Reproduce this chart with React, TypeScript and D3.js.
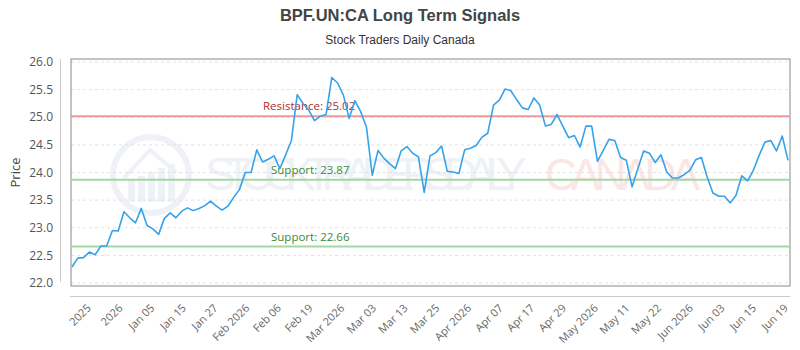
import * as d3 from "d3";
import React, { useEffect, useRef } from "react";

// closing prices (one per trading session)
const prices = [
  22.29, 22.45, 22.46, 22.56, 22.51, 22.67, 22.67, 22.95, 22.94, 23.29,
  23.18, 23.09, 23.35, 23.04, 22.98, 22.88, 23.17, 23.27, 23.18, 23.3,
  23.36, 23.31, 23.35, 23.4, 23.48, 23.39, 23.32, 23.39, 23.55, 23.69,
  24.0, 24.0, 24.41, 24.19, 24.24, 24.3, 24.07, 24.32, 24.58, 25.41,
  25.25, 25.13, 24.94, 25.02, 25.05, 25.72, 25.62, 25.4, 24.98, 25.3,
  25.1, 24.82, 23.95, 24.4, 24.26, 24.16, 24.07, 24.39, 24.47, 24.35,
  24.28, 23.64, 24.3, 24.36, 24.48, 24.02, 24.01, 23.98, 24.41, 24.44,
  24.49, 24.64, 24.71, 25.22, 25.31, 25.51, 25.48, 25.32, 25.17, 25.14,
  25.35, 25.22, 24.84, 24.87, 25.05, 24.84, 24.63, 24.67, 24.46, 24.84,
  24.84, 24.2, 24.4, 24.6, 24.58, 24.27, 24.22, 23.74, 24.07, 24.39,
  24.35, 24.18, 24.32, 24.01, 23.9, 23.9, 23.96, 24.04, 24.23, 24.27,
  23.92, 23.63, 23.57, 23.57, 23.45, 23.59, 23.94, 23.85, 24.04, 24.31,
  24.55, 24.58, 24.39, 24.66, 24.22,
];

const tickLabels = [
  "2025", "2026", "Jan 05", "Jan 15", "Jan 27", "Feb 2026", "Feb 06", "Feb 19",
  "Mar 2026", "Mar 03", "Mar 13", "Mar 25", "Apr 2026", "Apr 07", "Apr 17",
  "Apr 29", "May 2026", "May 11", "May 22", "Jun 2026", "Jun 03", "Jun 15", "Jun 19",
];

const yTicks = [22.0, 22.5, 23.0, 23.5, 24.0, 24.5, 25.0, 25.5, 26.0];

const resistance = [25.02];
const supports = [23.87, 22.66];

const W = 800,
  H = 350;

const App = () => {
  const svgRef = useRef<SVGSVGElement>(null);

  useEffect(() => {
    document.body.style.margin = "0";
    const svg = d3.select(svgRef.current);
    svg.selectAll("*").remove();

    const frame = { left: 71, right: 790, top: 59, bottom: 286 };
    const x = d3.scaleLinear().domain([0, prices.length - 1]).range([72, 788]);
    const y = d3.scaleLinear().domain([22, 26]).range([283, 62]);
    const xt = d3.scalePoint<string>().domain(tickLabels).range([89, 786]);

    const font = "'Open Sans', sans-serif";

    // titles
    svg
      .append("text")
      .attr("x", W / 2)
      .attr("y", 21)
      .attr("text-anchor", "middle")
      .style("font-family", "'Liberation Sans Narrow', sans-serif")
      .style("font-weight", "bold")
      .style("font-size", "16.5px")
      .style("fill", "#444")
      .text("BPF.UN:CA Long Term Signals");
    svg
      .append("text")
      .attr("x", W / 2)
      .attr("y", 44)
      .attr("text-anchor", "middle")
      .style("font-family", "'Liberation Sans Narrow', sans-serif")
      .style("font-size", "12px")
      .style("fill", "#333")
      .text("Stock Traders Daily Canada");

    // watermark
    const wm = svg.append("g").style("opacity", 0.35);
    wm.append("circle")
      .attr("cx", 151)
      .attr("cy", 175)
      .attr("r", 38)
      .attr("fill", "none")
      .attr("stroke", "#cfd8e6")
      .attr("stroke-width", 6);
    wm.append("g")
      .selectAll("rect")
      .data([0, 1, 2, 3, 4])
      .enter()
      .append("rect")
      .attr("x", (d) => 128 + d * 10)
      .attr("y", (d) => 180 - d * 4)
      .attr("width", 7)
      .attr("height", (d) => 22 + d * 4)
      .attr("fill", "#cfd8e6");
    wm.append("path")
      .attr("d", "M124,178 L150,150 L176,172")
      .attr("fill", "none")
      .attr("stroke", "#cfd8e6")
      .attr("stroke-width", 4);
    wm.append("text")
      .attr("x", 205)
      .attr("y", 190)
      .attr("textLength", 322)
      .style("font-family", "'Liberation Sans Narrow', sans-serif")
      .style("font-size", "46px")
      .style("fill", "#cfd8e6")
      .text("STOCK TRADERS DAILY");
    wm.append("text")
      .attr("x", 545)
      .attr("y", 190)
      .attr("textLength", 155)
      .style("font-family", "'Liberation Sans', sans-serif")
      .style("font-size", "44px")
      .style("fill", "#f6b8b8")
      .text("CANADA");

    // grid
    svg
      .append("g")
      .selectAll("line")
      .data(yTicks)
      .enter()
      .append("line")
      .attr("x1", frame.left)
      .attr("x2", frame.right)
      .attr("y1", (d) => y(d))
      .attr("y2", (d) => y(d))
      .attr("stroke", "#e2e2e2")
      .attr("stroke-dasharray", "3,3");

    // frame
    svg
      .append("rect")
      .attr("x", frame.left)
      .attr("y", frame.top)
      .attr("width", frame.right - frame.left)
      .attr("height", frame.bottom - frame.top)
      .attr("fill", "none")
      .attr("stroke", "#888");

    // y axis
    svg
      .append("line")
      .attr("x1", 60.5)
      .attr("x2", 60.5)
      .attr("y1", frame.top)
      .attr("y2", frame.bottom - 4)
      .attr("stroke", "#ccc");
    svg
      .append("g")
      .selectAll("text")
      .data(yTicks)
      .enter()
      .append("text")
      .attr("x", 53)
      .attr("y", (d) => y(d))
      .attr("dy", "0.35em")
      .attr("text-anchor", "end")
      .style("font-family", font)
      .style("font-size", "12px")
      .style("fill", "#555")
      .text((d) => d.toFixed(1));
    svg
      .append("text")
      .attr("transform", `translate(20,${(frame.top + frame.bottom) / 2}) rotate(-90)`)
      .attr("text-anchor", "middle")
      .style("font-family", font)
      .style("font-size", "13px")
      .style("fill", "#444")
      .text("Price");

    // x axis
    svg
      .append("line")
      .attr("x1", frame.left - 1)
      .attr("x2", frame.right)
      .attr("y1", 296.5)
      .attr("y2", 296.5)
      .attr("stroke", "#ccc");
    svg
      .append("g")
      .selectAll("text")
      .data(tickLabels)
      .enter()
      .append("text")
      .attr("transform", (d) => `translate(${xt(d)},${306}) rotate(-45)`)
      .attr("text-anchor", "end")
      .attr("dy", "0.35em")
      .style("font-family", font)
      .style("font-size", "11px")
      .style("fill", "#666")
      .text((d) => d);

    // signal levels
    const levels = svg.append("g");
    levels
      .selectAll("line.res")
      .data(resistance)
      .enter()
      .append("line")
      .attr("x1", frame.left)
      .attr("x2", frame.right)
      .attr("y1", (d) => y(d))
      .attr("y2", (d) => y(d))
      .attr("stroke", "#f09a9a")
      .attr("stroke-width", 2);
    levels
      .selectAll("line.sup")
      .data(supports)
      .enter()
      .append("line")
      .attr("x1", frame.left)
      .attr("x2", frame.right)
      .attr("y1", (d) => y(d))
      .attr("y2", (d) => y(d))
      .attr("stroke", "#a3d8a3")
      .attr("stroke-width", 2);
    levels
      .selectAll("text.res")
      .data(resistance)
      .enter()
      .append("text")
      .attr("x", 263)
      .attr("y", (d) => y(d) - 6)
      .style("font-family", font)
      .style("font-size", "11.5px")
      .style("fill", "#b22c2c")
      .text((d) => `Resistance: ${d.toFixed(2)}`);
    levels
      .selectAll("text.sup")
      .data(supports)
      .enter()
      .append("text")
      .attr("x", 271)
      .attr("y", (d) => y(d) - 6)
      .style("font-family", font)
      .style("font-size", "11.5px")
      .style("fill", "#3a8a3a")
      .text((d) => `Support: ${d.toFixed(2)}`);

    // price line
    const line = d3
      .line<number>()
      .x((_, i) => x(i))
      .y((d) => y(d));
    svg
      .append("path")
      .datum(prices)
      .attr("d", line)
      .attr("fill", "none")
      .attr("stroke", "#36a2eb")
      .attr("stroke-width", 1.6)
      .attr("stroke-linejoin", "round");
  }, []);

  return (
    <div style={{ width: W, height: H }}>
      <svg ref={svgRef} width={W} height={H} style={{ display: "block" }}></svg>
    </div>
  );
};

export default App;
